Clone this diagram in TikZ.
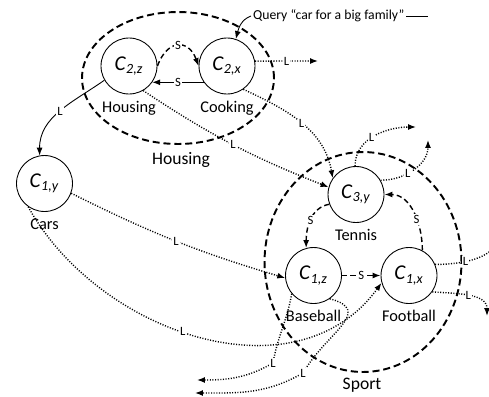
\documentclass[tikz,border=0pt]{standalone}
\usepackage{fontspec}
\setmainfont{Carlito}
\usetikzlibrary{arrows.meta,positioning}
\newcommand{\clab}[2]{\textit{C}\textsubscript{\textit{#1,#2}}}
\tikzset{
	concept/.style={circle, draw, line width=0.5pt, minimum size=1.12cm, inner sep=0pt, font=\fontsize{12}{13}\selectfont},
	caption/.style={inner sep=1.5pt, font=\fontsize{9.3}{11}\selectfont},
	grouplab/.style={inner sep=1pt, font=\fontsize{10}{12}\selectfont},
	group/.style={line width=1.1pt, dash pattern=on 4pt off 2.2pt},
	lab/.style={fill=white, inner sep=0.6pt, font=\fontsize{7.2}{8}\selectfont},
	tip/.style={-{Latex[length=4.5pt,width=3.4pt]}},
	ldot/.style={tip, line width=0.8pt, dash pattern=on 0.6pt off 0.9pt},
	lsolid/.style={tip, line width=0.5pt},
	sdash/.style={tip, line width=0.8pt, dash pattern=on 3pt off 1.8pt},
	ssolid/.style={tip, line width=0.5pt},
}
\begin{document}
\begin{tikzpicture}[x=0.02cm,y=0.02cm]
			%%%%% START %%%%%
			\useasboundingbox (0,0) rectangle (489,-396);
			\clip (0,0) rectangle (489,-396);
			
			\draw[group] (178,-78) ellipse [x radius=1.92cm, y radius=1.32cm];
			\draw[group] (363,-262) ellipse [x radius=1.97cm, y radius=2.2cm];
			\node[grouplab] (hgroup) at (181,-160) {Housing};
			\node[grouplab] (sgroup) at (362,-385) {Sport};
			
			\node[concept] (c2z) at (129,-66) {\clab{2}{z}};
			\node[concept] (c2x) at (227,-66) {\clab{2}{x}};
			\node[concept] (c1y) at (44.5,-183.5) {\clab{1}{y}};
			\node[concept] (c3y) at (356,-194.5) {\clab{3}{y}};
			\node[concept] (c1z) at (313.5,-275.5) {\clab{1}{z}};
			\node[concept] (c1x) at (409,-275.5) {\clab{1}{x}};
			
			\node[caption, below=2pt of c2z] (c2zcap) {Housing};
			\node[caption, below=2pt of c2x] (c2xcap) {Cooking};
			\node[caption, below=2pt of c1y] (c1ycap) {Cars};
			\node[caption, below=2pt of c3y] (c3ycap) {Tennis};
			\node[caption, below=2pt of c1z] (c1zcap) {Baseball};
			\node[caption, below=2pt of c1x] (c1xcap) {Football};
			
			% query
			\node[inner sep=1pt, anchor=west, font=\fontsize{7.8}{9}\selectfont] (query) at (251,-16) {Query “car for a big family”};
			\coordinate (qend) at (428,-16);
			\draw[line width=0.5pt] (query.east) -- (qend);
			\draw[lsolid] (query.west) to[out=200,in=75] (c2x.72);
			
			% free ends
			\coordinate (c2xout) at (318,-61);
			\coordinate (tennisup) at (416,-127);
			\coordinate (tennisright) at (428,-140);
			\coordinate (bl1mid) at (273,-363);
			\coordinate (bl1) at (197,-380);
			\coordinate (bl2mid) at (303,-373);
			\coordinate (bl2) at (195,-393);
			\coordinate (fr1) at (496,-240);
			\coordinate (fr2) at (487,-316);
			
			% housing
			\draw[sdash] (c2z.east) to[out=70,in=110,looseness=1.8] node[lab]{S} (c2x.west);
			\draw[ssolid] (c2x.215) -- node[lab]{S} (c2z.-35);
			\draw[lsolid] (c2z.210) to[out=215,in=90] node[lab]{L} (c1y.100);
			\draw[ldot] (c2x.10) -- node[lab]{L} (c2xout);
			\draw[ldot] (c2z.-60) to[bend right=6] node[lab]{L} (c3y.165);
			\draw[ldot] (c2x.-55) to[out=-25,in=100] node[lab]{L} (c3y.145);
			
			% sport
			\draw[ldot] (c3y.92) to[out=90,in=180] node[lab,pos=0.45]{L} (tennisup);
			\draw[ldot] (c3y.30) to[out=0,in=-90] node[lab,pos=0.4]{L} (tennisright);
			\draw[sdash] (c3y.200) to[out=190,in=90] node[lab]{S} (c1z.105);
			\draw[sdash] (c1z.east) -- node[lab]{S} (c1x.west);
			\draw[sdash] (c1x.62) to[out=90,in=0] node[lab,pos=0.4]{S} (c3y.east);
			
			% cars
			\draw[ldot] (c1y.-20) to[bend right=5] node[lab]{L} (c1z.185);
			\draw[ldot] (c1y.-125) to[out=-61,in=234,looseness=1.03] node[lab,pos=0.46]{L} (c1x.195);
			
			\draw[ldot] (c1z.220) to[out=260,in=80] node[lab,pos=1]{L} (bl1mid) to[out=210,in=0] (bl1);
			\draw[ldot] (c1z.-55) to[out=-15,in=60,looseness=1.5] node[lab,pos=1]{L} (bl2mid) to[out=210,in=0] (bl2);
			\draw[ldot] (c1x.23) to[out=0,in=250,out looseness=1.6,in looseness=0.5] node[lab,pos=0.3]{L} (fr1);
			\draw[ldot] (c1x.-35) to[out=-5,in=90] node[lab]{L} (fr2);
			
			%%%%% END %%%%%
\end{tikzpicture}
\end{document}
